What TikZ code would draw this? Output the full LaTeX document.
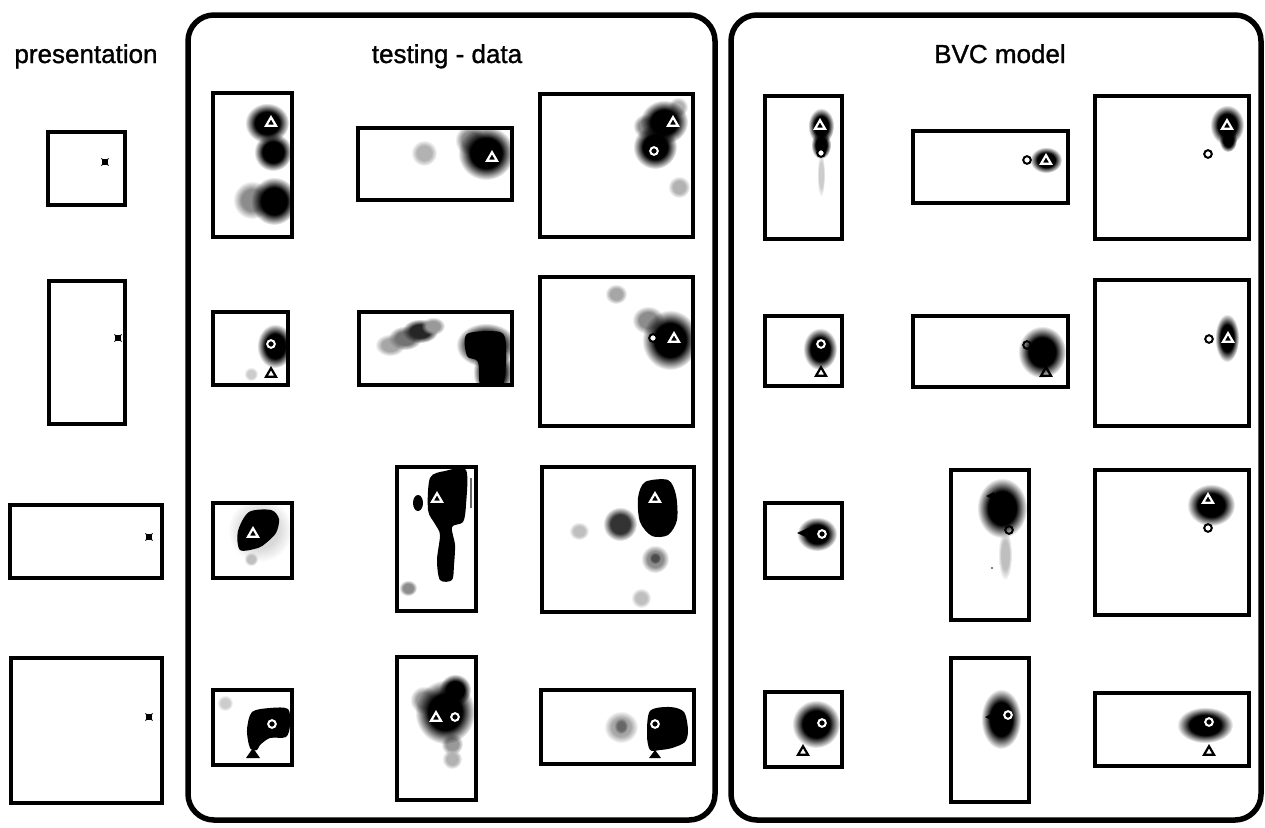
\documentclass[tikz,border=0pt]{standalone}
\usepackage{fontspec}
\setmainfont{Liberation Sans}
\usetikzlibrary{fadings}
\pgfdeclareradialshading{blobshade}{\pgfpointorigin}{color(0bp)=(white); color(14bp)=(white); color(25bp)=(black); color(50bp)=(black)}
\pgfdeclarefading{blobfade}{\pgfuseshading{blobshade}}
\newcommand\blob[5][black]{\fill[#1, path fading=blobfade] (#2,#3) ellipse (#4 and #5);}
\newcommand\mtri[3]{\draw[#3, line width=2.2pt, line join=miter] ({#1-5},{#2+3.8}) -- ({#1+5},{#2+3.8}) -- (#1,{#2-4.8}) -- cycle;}
\newcommand\mcirc[3]{\draw[#3, line width=2pt] (#1,#2) circle (3.8);}
\newcommand\xmark[2]{\fill ({#1-3.2},{#2-3.2}) rectangle ({#1+3.2},{#2+3.2}); \draw[line width=0.8pt] ({#1-3.6},{#2-3.6})--({#1+3.6},{#2+3.6}) ({#1-3.6},{#2+3.6})--({#1+3.6},{#2-3.6});}
\tikzset{
  arena/.style={draw=black, line width=3.3pt},
  panel/.style={draw=black, line width=5.5pt, rounded corners=26pt},
  title/.style={anchor=base, font=\fontsize{26}{30}\selectfont\addfontfeature{FakeBold=1.2}, inner sep=0pt}
}
\begin{document}
\begin{tikzpicture}[x=1pt,y=-1pt]
\useasboundingbox (0,0) rectangle (1265,827);
\fill[white] (0,0) rectangle (1265,827);

% titles
\node[title] (tp) at (86,63) {presentation};
\node[title] (tt) at (447,63) {testing - data};
\node[title] (tb) at (1000,63) {BVC model};

% panels
\draw[panel] (188,15) rectangle (715,820);
\draw[panel] (731,15) rectangle (1261,820);

% ---------- presentation column ----------
\draw[arena] (48,132) rectangle (125,205);
\draw[arena] (49,281) rectangle (125,424);
\draw[arena] (10,505) rectangle (162,578);
\draw[arena] (11,658) rectangle (162,803);
\xmark{105}{162}
\xmark{118}{338}
\xmark{149}{537}
\xmark{149}{717}

% ---------- testing data ----------
% T11
\begin{scope}\clip (213,93) rectangle (292,237);
\blob{267}{123}{22}{20}
\blob{273}{152}{19}{19}
\blob[black!45]{252}{200}{19}{19}
\blob{274}{201}{23}{24}
\mtri{271}{122}{white}
\end{scope}
\draw[arena] (213,93) rectangle (292,237);
% T12
\begin{scope}\clip (358,128) rectangle (512,200);
\blob[black!30]{424}{153}{13}{13}
\blob[black!45]{470}{140}{15}{15}
\blob{486}{153}{28}{27}
\mtri{492}{157}{white}
\end{scope}
\draw[arena] (358,128) rectangle (512,200);
% T13
\begin{scope}\clip (540,94) rectangle (693,237);
\blob[black!30]{678}{107}{10}{10}
\blob[black!30]{679}{187}{11}{11}
\blob[black!45]{645}{126}{12}{12}
\blob{664}{122}{24}{22}
\blob{655}{147}{22}{22}
\mtri{673}{122}{white}
\mcirc{654}{151}{white}
\end{scope}
\draw[arena] (540,94) rectangle (693,237);

% T21
\begin{scope}\clip (213,312) rectangle (288,385);
\blob{275}{346}{18}{22}
\blob[black!20]{251}{374}{7}{7}
\mcirc{271}{344}{white}
\mtri{271}{373}{black}
\end{scope}
\draw[arena] (213,312) rectangle (288,385);
% T22
\begin{scope}\clip (359,312) rectangle (512,385);
\blob[black!35]{390}{345}{15}{11}
\blob[black!55]{405}{338}{17}{12}
\blob[black!85]{420}{331}{18}{12}
\blob[black!40]{433}{326}{12}{9}
\blob{486}{345}{30}{22}
\blob{493}{372}{20}{26}
\fill plot[smooth cycle] coordinates {(467,334) (500,332) (506,345) (505,375) (500,390) (481,390) (478,362) (467,356)};
\end{scope}
\draw[arena] (359,312) rectangle (512,385);
% T23
\begin{scope}\clip (540,277) rectangle (693,426);
\blob[black!35]{616}{294}{11}{10}
\blob[black!45]{648}{320}{16}{14}
\blob{670}{340}{28}{30}
\mcirc{653}{338}{black,fill=white}
\mtri{674}{338}{white}
\end{scope}
\draw[arena] (540,277) rectangle (693,426);

% T31
\begin{scope}\clip (213,503) rectangle (292,578);
\blob[black!15]{260}{530}{32}{32}
\fill plot[smooth cycle] coordinates {(249,512) (271,510) (279,519) (276,533) (266,543) (258,548) (240,550) (238,531)};
\blob[black!25]{251}{559}{7}{7}
\mtri{253}{533}{white}
\end{scope}
\draw[arena] (213,503) rectangle (292,578);
% T32
\begin{scope}\clip (397,467) rectangle (476,611);
\fill plot[smooth cycle, tension=0.5] coordinates {(430,478) (445,471) (466,470) (466,505) (463,522) (452,527) (455,545) (454,565) (452,580) (440,580) (437,560) (440,535) (435,524) (428,510)};
\fill (418,503) ellipse (5 and 8);
\fill[black!60] (470,478) rectangle (472,508);
\blob[black!45]{408}{588}{9}{8}
\mtri{437}{498}{white}
\end{scope}
\draw[arena] (397,467) rectangle (476,611);
% T33
\begin{scope}\clip (542,467) rectangle (694,612);
\blob[black!80]{620}{524}{17}{17}
\blob[black!45]{655}{559}{14}{14}
\blob[black!70]{655}{558}{6}{6}
\blob[black!25]{579}{531}{10}{9}
\blob[black!25]{641}{598}{10}{10}
\fill plot[smooth cycle] coordinates {(645,482) (668,480) (676,495) (677,520) (668,535) (652,536) (640,522) (638,498)};
\mtri{655}{498}{white}
\end{scope}
\draw[arena] (542,467) rectangle (694,612);

% T41
\begin{scope}\clip (213,690) rectangle (292,765);
\blob[black!20]{225}{703}{8}{8}
\fill plot[smooth cycle] coordinates {(252,712) (270,708) (288,709) (290,725) (286,737) (270,738) (260,745) (257,750) (250,748) (247,730)};
\fill (246,758)--(260,758)--(253,748)--cycle;
\mcirc{272}{724}{white}
\end{scope}
\draw[arena] (213,690) rectangle (292,765);
% T42
\begin{scope}\clip (397,657) rectangle (476,800);
\blob[black!40]{424}{700}{14}{14}
\blob[black!40]{452}{744}{11}{11}
\blob[black!30]{452}{759}{10}{10}
\blob{445}{712}{30}{32}
\blob{455}{690}{16}{16}
\mtri{436}{717}{white}
\mcirc{455}{717}{white}
\end{scope}
\draw[arena] (397,657) rectangle (476,800);
% T43
\begin{scope}\clip (541,690) rectangle (694,764);
\blob[black!35]{621}{727}{17}{16}
\blob[black!60]{621}{726}{7}{8}
\fill plot[smooth cycle] coordinates {(650,711) (670,707) (684,712) (688,730) (685,742) (672,748) (660,750) (650,750) (647,735)};
\fill (649,758)--(661,758)--(655,750)--cycle;
\mcirc{655}{724}{white}
\end{scope}
\draw[arena] (541,690) rectangle (694,764);

% ---------- BVC model ----------
% V11
\blob{821}{126}{13}{18}
\blob{821}{145}{10}{14}
\blob[black!20]{821}{175}{4}{22}
\mtri{820}{125}{white}
\mcirc{821}{153}{black,fill=white}
\draw[arena] (765,96) rectangle (842,239);
% V12
\blob{1046}{160}{16}{13}
\mtri{1046}{160}{white}
\mcirc{1027}{160}{black,fill=white}
\draw[arena] (913,131) rectangle (1068,203);
% V13
\blob{1227}{125}{17}{20}
\blob{1228}{140}{9}{12}
\mtri{1227}{125}{white}
\mcirc{1208}{154}{black,fill=white}
\draw[arena] (1095,96) rectangle (1249,239);

% V21
\blob{820}{349}{17}{21}
\mcirc{821}{344}{white}
\mtri{821}{372}{black}
\draw[arena] (765,316) rectangle (842,386);
% V22
\blob{1042}{352}{24}{26}
\mcirc{1027}{345}{black}
\mtri{1046}{372}{black}
\draw[arena] (913,316) rectangle (1068,387);
% V23
\blob{1227}{338}{12}{24}
\mcirc{1209}{339}{black,fill=white}
\mtri{1228}{338}{white}
\draw[arena] (1095,280) rectangle (1249,426);

% V31
\blob{817}{534}{20}{17}
\fill (797,533) -- (808,528) -- (808,538) -- cycle;
\mcirc{822}{534}{white}
\draw[arena] (765,503) rectangle (842,578);
% V32
\blob{1002}{508}{25}{30}
\blob[black!25]{1005}{555}{7}{25}
\fill (986,496) -- (994,492) -- (994,500) -- cycle;
\mcirc{1009}{530}{black}
\fill (992,568) circle (0.9);
\draw[arena] (951,470) rectangle (1029,620);
% V33
\blob{1211}{505}{24}{21}
\mtri{1208}{499}{white}
\mcirc{1208}{528}{black,fill=white}
\draw[arena] (1095,470) rectangle (1249,615);

% V41
\blob{816}{724}{24}{24}
\mcirc{822}{723}{white}
\mtri{803}{751}{black}
\draw[arena] (765,692) rectangle (842,767);
% V42
\blob{1001}{719}{20}{30}
\fill (985,717) -- (995,712) -- (995,722) -- cycle;
\mcirc{1008}{715}{white}
\draw[arena] (951,658) rectangle (1029,802);
% V43
\blob{1205}{725}{28}{18}
\mcirc{1209}{722}{white}
\mtri{1209}{751}{black}
\draw[arena] (1095,693) rectangle (1249,766);
\end{tikzpicture}
\end{document}
